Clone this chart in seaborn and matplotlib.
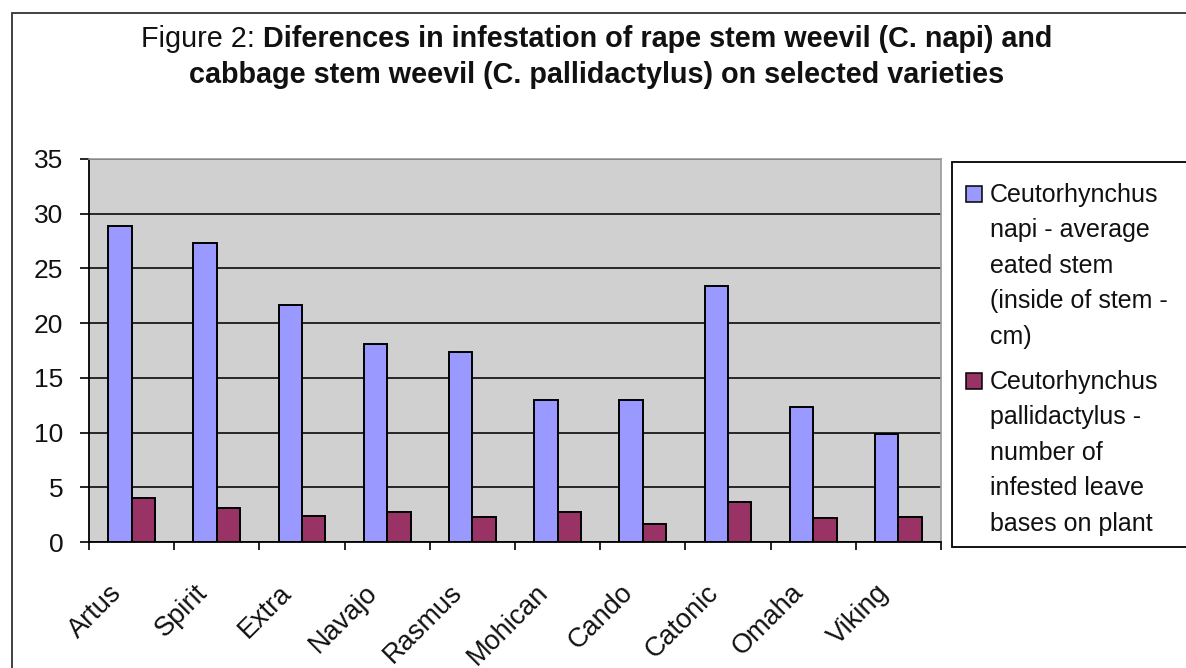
import numpy as np
import pandas as pd
import matplotlib
matplotlib.use("Agg")
import matplotlib.pyplot as plt
import matplotlib.transforms as mtransforms
from matplotlib.patches import Rectangle
import seaborn as sns

# ---------------- data ----------------
varieties = ["Artus", "Spirit", "Extra", "Navajo", "Rasmus",
             "Mohican", "Cando", "Catonic", "Omaha", "Viking"]
napi = [28.9, 27.3, 21.7, 18.1, 17.4, 13.0, 13.0, 23.4, 12.3, 9.9]
pallidactylus = [4.0, 3.1, 2.4, 2.7, 2.3, 2.7, 1.6, 3.7, 2.2, 2.3]
series_labels = [
    "Ceutorhynchus\nnapi - average\neated stem\n(inside of stem -\ncm)",
    "Ceutorhynchus\npallidactylus -\nnumber of\ninfested leave\nbases on plant",
]
y_ticks = [0, 5, 10, 15, 20, 25, 30, 35]
title_prefix = "Figure 2:"
title_line1 = "Diferences in infestation of rape stem weevil (C. napi) and"
title_line2 = "cabbage stem weevil (C. pallidactylus) on selected varieties"
bar_colors = ["#9999FF", "#993366"]

# ---------------- style ----------------
sns.set_theme(style="white")
plt.rcParams["font.family"] = ["Liberation Sans", "DejaVu Sans"]

W, H = 1186, 668
fig = plt.figure(figsize=(W / 100, H / 100), dpi=100)
fig.patch.set_facecolor("white")


def fx(px):
    return px / W


def fy(py):
    return 1 - py / H


# plot area
ax = fig.add_axes([fx(89), fy(542), fx(941) - fx(89), fy(159) - fy(542)])
ax.set_facecolor("#D0D0D0")

df = pd.DataFrame({
    "variety": varieties * 2,
    "value": napi + pallidactylus,
    "series": [series_labels[0]] * len(varieties) + [series_labels[1]] * len(varieties),
})

sns.barplot(data=df, x="variety", y="value", hue="series",
            order=varieties, hue_order=series_labels, palette=bar_colors,
            saturation=1, width=0.55, gap=0, edgecolor="black", linewidth=1.4,
            errorbar=None, legend=False, ax=ax)

ax.set_xlim(-0.5, len(varieties) - 0.5)
ax.set_ylim(0, 35)
ax.set_xlabel("")
ax.set_ylabel("")

# grid
ax.set_axisbelow(True)
ax.yaxis.grid(True, color="#1a1a1a", linewidth=1.3)
ax.xaxis.grid(False)

# y axis ticks
ax.set_yticks(y_ticks)
ax.set_yticklabels([str(v) for v in y_ticks])
ax.tick_params(axis="y", which="major", left=True, direction="out", length=6.5,
               width=1.2, color="black", pad=12, labelsize=19, labelcolor="#111111")

# x axis: ticks at category boundaries, labels at centers
ax.set_xticks(np.arange(len(varieties) + 1) - 0.5)
ax.set_xticklabels([])
ax.set_xticks(np.arange(len(varieties)), minor=True)
ax.set_xticklabels(varieties, minor=True, rotation=45, ha="right", va="top",
                   rotation_mode="anchor")
ax.tick_params(axis="x", which="major", bottom=True, direction="out", length=6,
               width=1.2, color="black")
ax.tick_params(axis="x", which="minor", bottom=True, length=0, pad=27,
               labelsize=19.5, labelcolor="#111111")
shift = mtransforms.ScaledTranslation(-23 / 100, 0, fig.dpi_scale_trans)
for lbl in ax.get_xticklabels(minor=True):
    lbl.set_transform(lbl.get_transform() + shift)

# spines
for side in ["left", "bottom"]:
    ax.spines[side].set_color("black")
    ax.spines[side].set_linewidth(1.3)
for side in ["top", "right"]:
    ax.spines[side].set_color("#9a9a9a")
    ax.spines[side].set_linewidth(1.2)

# outer chart border (left and top visible)
fig.patches.append(Rectangle((fx(12), -0.05), 1.2, fy(13) + 0.05,
                             transform=fig.transFigure, fill=False,
                             edgecolor="#333333", linewidth=1.3, zorder=0))

# legend box
fig.patches.append(Rectangle((fx(952), fy(547)), 1.2, fy(162) - fy(547),
                             transform=fig.transFigure, facecolor="white",
                             edgecolor="black", linewidth=1.3, zorder=1))

line_step = 35.4
entry_baselines = [202, 389]
for label, color, base in zip(series_labels, bar_colors, entry_baselines):
    fig.patches.append(Rectangle((fx(966), fy(base)), fx(982) - fx(966), fy(base - 16) - fy(base),
                                 transform=fig.transFigure, facecolor=color,
                                 edgecolor="black", linewidth=1.1, zorder=2))
    for i, line in enumerate(label.split("\n")):
        fig.text(fx(990), fy(base + i * line_step), line, fontsize=18,
                 va="baseline", ha="left", color="#111111", zorder=3)

# title
fig.canvas.draw()
renderer = fig.canvas.get_renderer()


def text_width(s, size, weight):
    t = fig.text(0, 0, s, fontsize=size, fontweight=weight)
    w = t.get_window_extent(renderer).width
    t.remove()
    return w


fs = 20 * 812 / text_width(title_line2, 20, "bold")
w_pre = text_width(title_prefix, fs, "normal")
gap = fs * 100 / 72 * 0.28
w_l1 = text_width(title_line1, fs, "bold")
center = 597
start = center - (w_pre + gap + w_l1) / 2
fig.text(fx(start), fy(47), title_prefix, fontsize=fs, fontweight="normal",
         ha="left", va="baseline", color="#111111")
fig.text(fx(start + w_pre + gap), fy(47), title_line1, fontsize=fs, fontweight="bold",
         ha="left", va="baseline", color="#111111")
fig.text(fx(center), fy(83), title_line2, fontsize=fs, fontweight="bold",
         ha="center", va="baseline", color="#111111")

fig.savefig("out.png", dpi=100)
